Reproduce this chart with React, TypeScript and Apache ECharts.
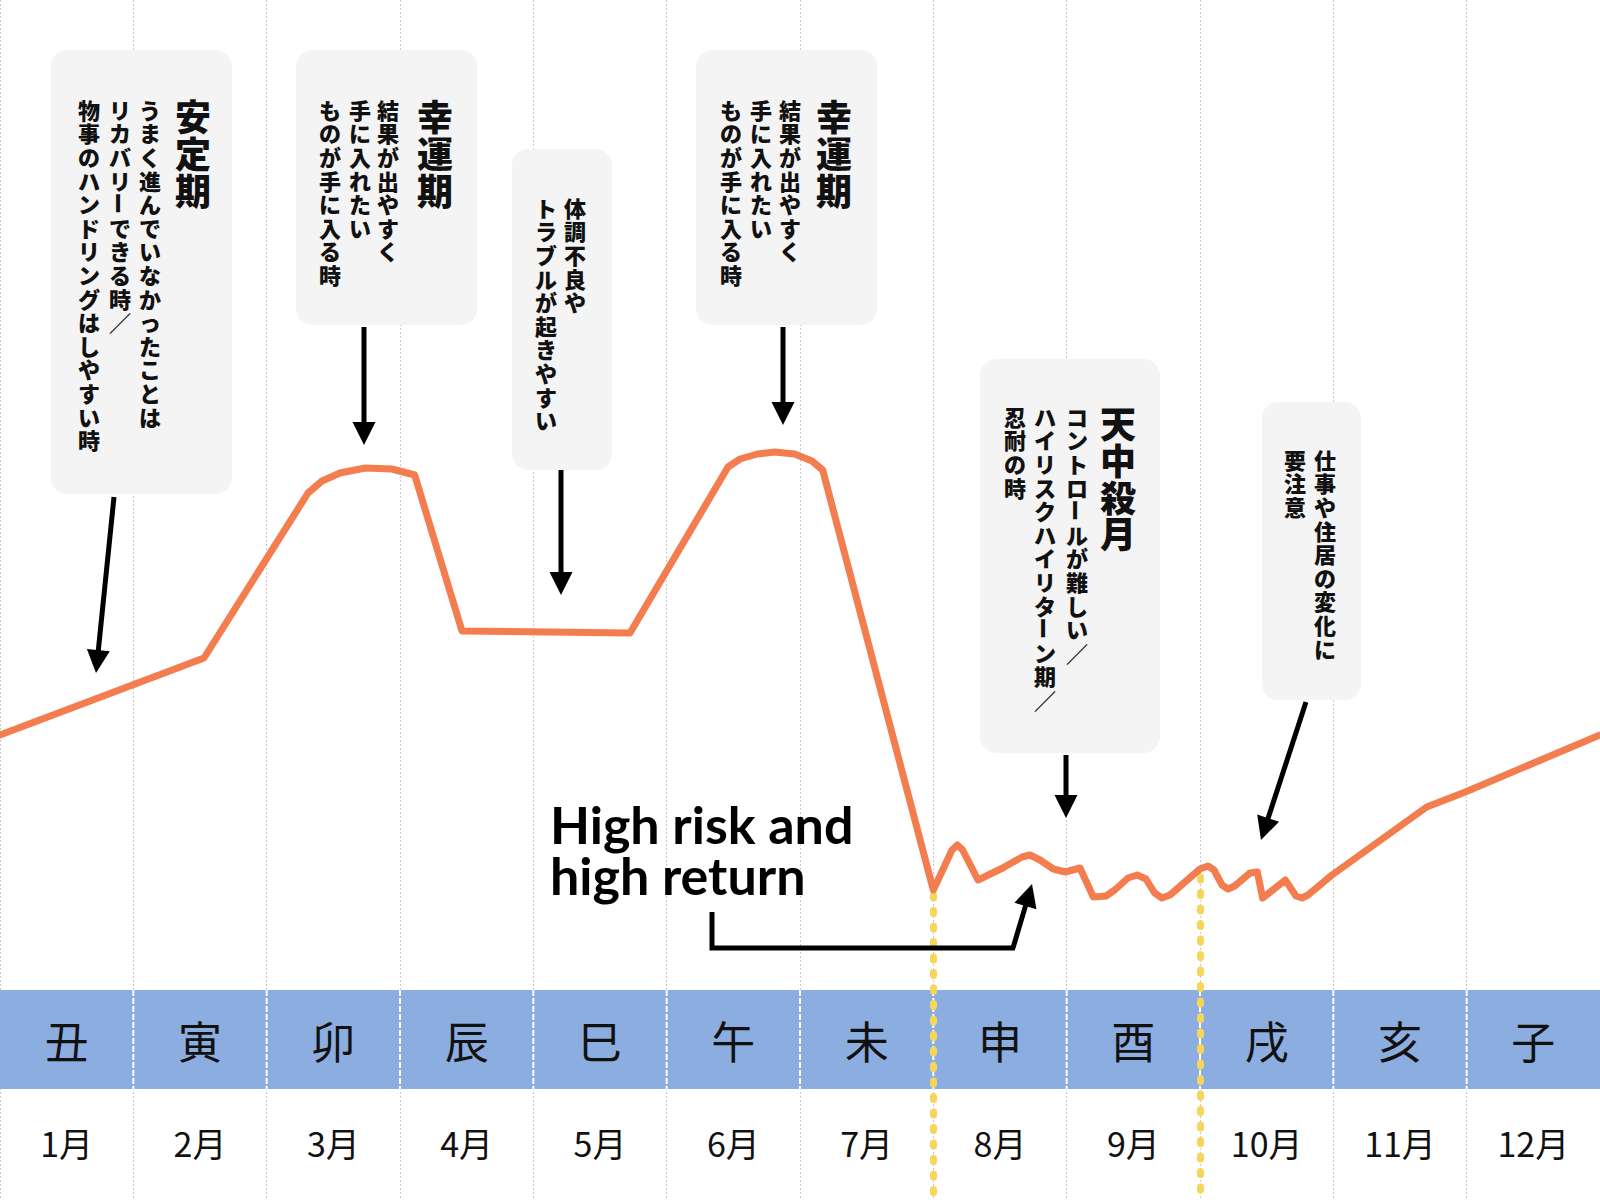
import React, { useEffect, useRef } from "react";
import * as echarts from "echarts";

// ---- data ----
const zodiac = ["丑", "寅", "卯", "辰", "巳", "午", "未", "申", "酉", "戌", "亥", "子"];
const months = ["1月", "2月", "3月", "4月", "5月", "6月", "7月", "8月", "9月", "10月", "11月", "12月"];

// fortune curve: x in months (0..12), y in fortune level (0..120)
const fortuneX = [
  0, 1.53, 2.31, 2.415, 2.55, 2.74, 2.94, 3.11, 3.465, 4.725, 5.46, 5.55, 5.68, 5.81, 5.96, 6.09, 6.17,
  7.0, 7.14, 7.18, 7.22, 7.335, 7.52, 7.665, 7.725, 7.8, 7.9, 7.99, 8.1, 8.2, 8.295, 8.36, 8.46, 8.53,
  8.595, 8.66, 8.715, 8.775, 9.0, 9.06, 9.105, 9.165, 9.21, 9.26, 9.375, 9.43, 9.47, 9.64, 9.72, 9.765,
  9.81, 9.99, 10.7, 10.99, 12,
];
const fortuneY = [
  46.5, 54.2, 70.7, 71.9, 72.7, 73.2, 73.1, 72.5, 56.9, 56.7, 73.3, 74.1, 74.6, 74.8, 74.6, 73.9, 73.0,
  31.0, 35.0, 35.5, 35.0, 32.0, 33.2, 34.3, 34.5, 34.0, 33.1, 32.8, 33.2, 30.3, 30.4, 31.0, 32.2, 32.5,
  32.1, 30.7, 30.2, 30.5, 33.1, 33.4, 33.0, 31.5, 31.1, 31.4, 32.7, 32.8, 30.2, 32.0, 30.4, 30.2,
  30.5, 32.5, 39.3, 40.8, 46.5,
];

// 天中殺 boundaries (month position) and where the dotted marker starts (level)
const tenchusatsuX = [7, 9];
const tenchusatsuStart = [30.5, 32.3];

const noteTitles = ["安定期", "幸運期", "", "幸運期", "天中殺月", ""];
const noteLines = [
  ["うまく進んでいなかったことは", "リカバリーできる時／", "物事のハンドリングはしやすい時"],
  ["結果が出やすく", "手に入れたい", "ものが手に入る時"],
  ["体調不良や", "トラブルが起きやすい"],
  ["結果が出やすく", "手に入れたい", "ものが手に入る時"],
  ["コントロールが難しい／", "ハイリスクハイリターン期／", "忍耐の時"],
  ["仕事や住居の変化に", "要注意"],
];
const callout = ["High risk and", "high return"];

// ---- layout / style ----
const LINE_COLOR = "#f47d4f";
const BAND_COLOR = "#8caddf";
const BOX_COLOR = "#f4f4f4";
const YELLOW = "#f7d55b";
const JP = "'Noto Sans CJK JP', 'Noto Sans CJK SC', sans-serif";
const BAND_TOP = 21.0;
const BAND_BOTTOM = 11.1;
const ZODIAC_LEVEL = 16.0;
const MONTH_LEVEL = 5.8;

const noteLayout = [
  { box: [51, 50, 181, 444], titleX: 193, cols: [150, 120, 89], top: 97 },
  { box: [296, 50, 181, 275], titleX: 435, cols: [388, 360, 330], top: 97 },
  { box: [512, 149, 100, 321], titleX: 0, cols: [575, 546], top: 195 },
  { box: [696, 50, 181, 275], titleX: 834, cols: [790, 761, 731], top: 97 },
  { box: [980, 359, 180, 394], titleX: 1118, cols: [1077, 1045, 1015], top: 404 },
  { box: [1262, 402, 99, 298], titleX: 0, cols: [1325, 1295], top: 447 },
];
const arrows = [
  [114, 497, 96, 673],
  [364, 327, 364, 445],
  [561, 470, 561, 595],
  [783, 327, 783, 425],
  [1066, 755, 1066, 818],
  [1306, 702, 1261, 840],
  [1013, 948, 1032, 884],
];

// vertical column: runs of upright characters become one multi-line text;
// the long-vowel mark is rotated as in vertical typesetting
function vText(s: string, cx: number, top: number, pitch: number, size: number): any[] {
  const chars = Array.from(s);
  const out: any[] = [];
  const base = {
    fill: "#111",
    fontSize: size,
    lineHeight: pitch,
    fontWeight: 900,
    fontFamily: JP,
    align: "center",
    verticalAlign: "top",
  };
  let run: string[] = [];
  let runStart = 0;
  const flush = () => {
    if (!run.length) return;
    out.push({
      type: "text",
      z: 12,
      x: cx,
      y: top + pitch * runStart,
      style: { ...base, text: run.join("\n"), x: 0, y: 0 },
    });
    run = [];
  };
  chars.forEach((ch, i) => {
    if (ch === "ー") {
      flush();
      out.push({
        type: "text",
        z: 12,
        x: cx,
        y: top + pitch * (i + 0.5),
        rotation: -Math.PI / 2,
        style: { ...base, text: ch, x: 0, y: 0, verticalAlign: "middle" },
      });
      runStart = i + 1;
    } else {
      if (!run.length) runStart = i;
      run.push(ch);
    }
  });
  flush();
  return out;
}

function arrow(x1: number, y1: number, x2: number, y2: number): any[] {
  const head = 23;
  const dx = x2 - x1;
  const dy = y2 - y1;
  const len = Math.hypot(dx, dy);
  const ux = dx / len;
  const uy = dy / len;
  const bx = x2 - ux * head;
  const by = y2 - uy * head;
  const px = -uy;
  const py = ux;
  const hw = 11.5;
  return [
    {
      type: "line",
      z: 12,
      shape: { x1, y1, x2: bx + ux * 2, y2: by + uy * 2 },
      style: { stroke: "#000", lineWidth: 5 },
    },
    {
      type: "polygon",
      z: 12,
      shape: { points: [[x2, y2], [bx + px * hw, by + py * hw], [bx - px * hw, by - py * hw]] },
      style: { fill: "#000" },
    },
  ];
}

function buildGraphics(): any[] {
  const els: any[] = [];
  noteLayout.forEach((l, k) => {
    els.push({
      type: "rect",
      z: 10,
      shape: { x: l.box[0], y: l.box[1], width: l.box[2], height: l.box[3], r: 16 },
      style: { fill: BOX_COLOR },
    });
    if (noteTitles[k]) els.push(...vText(noteTitles[k], l.titleX, l.top, 36.7, 36));
    noteLines[k].forEach((line, j) => {
      els.push(...vText(line, l.cols[j], l.top, 23.6, 22));
    });
  });
  arrows.forEach((a) => els.push(...arrow(a[0], a[1], a[2], a[3])));
  els.push({
    type: "polyline",
    z: 12,
    shape: { points: [[712, 912], [712, 948], [1015, 948]] },
    style: { stroke: "#000", lineWidth: 5, fill: null, lineJoin: "miter" },
  });
  callout.forEach((t, i) => {
    els.push({
      type: "text",
      z: 12,
      x: 550,
      y: 824 + i * 51,
      style: {
        text: t,
        x: 0,
        y: 0,
        fill: "#000",
        fontSize: 52,
        lineHeight: 50,
        fontWeight: "bold",
        fontFamily: "Lato, 'Noto Sans', sans-serif",
        align: "left",
        verticalAlign: "middle",
      },
    });
  });
  return els;
}

export default function App() {
  const ref = useRef<HTMLDivElement>(null);
  useEffect(() => {
    if (!ref.current) return;
    const chart = echarts.init(ref.current, undefined, { renderer: "svg" });
    const option: any = {
      animation: false,
      backgroundColor: "#ffffff",
      grid: { left: 0, right: 0, top: 0, bottom: 0 },
      xAxis: {
        type: "value",
        min: 0,
        max: 12,
        interval: 1,
        axisLine: { show: false },
        axisTick: { show: false },
        axisLabel: { show: false },
        splitLine: { show: true, lineStyle: { color: "#c9c9c9", width: 1, type: [2, 2] } },
      },
      yAxis: { type: "value", min: 0, max: 120, show: false, splitLine: { show: false } },
      series: [
        {
          type: "custom",
          z: 1,
          silent: true,
          data: zodiac.map((_, i) => [i, 0]),
          encode: { x: 0, y: 1 },
          renderItem: (params: any, api: any) => {
            const i = api.value(0);
            const tl = api.coord([i, BAND_TOP]);
            const br = api.coord([i + 1, BAND_BOTTOM]);
            const children: any[] = [
              {
                type: "rect",
                shape: { x: tl[0], y: tl[1], width: br[0] - tl[0], height: br[1] - tl[1] },
                style: { fill: BAND_COLOR },
              },
            ];
            if (i > 0) {
              children.push({
                type: "line",
                shape: { x1: tl[0], y1: tl[1], x2: tl[0], y2: br[1] },
                style: { stroke: "#ffffff", lineWidth: 2, lineDash: [6, 2] },
              });
            }
            const zc = api.coord([i + 0.5, ZODIAC_LEVEL]);
            children.push({
              type: "text",
              x: zc[0],
              y: zc[1],
              style: {
                text: zodiac[i],
                fill: "#111",
                fontSize: 44,
                fontFamily: JP,
                fontWeight: "normal",
                align: "center",
                verticalAlign: "middle",
              },
            });
            const mc = api.coord([i + 0.5, MONTH_LEVEL]);
            children.push({
              type: "text",
              x: mc[0],
              y: mc[1],
              style: {
                text: months[i],
                fill: "#111",
                fontSize: 34,
                fontFamily: JP,
                fontWeight: "normal",
                align: "center",
                verticalAlign: "middle",
              },
            });
            return { type: "group", children };
          },
        },
        {
          type: "line",
          z: 5,
          silent: true,
          symbol: "none",
          showSymbol: false,
          data: fortuneX.map((x, i) => [x, fortuneY[i]]),
          lineStyle: { color: LINE_COLOR, width: 7, join: "round", cap: "round" },
          markLine: {
            silent: true,
            symbol: "none",
            label: { show: false },
            lineStyle: { color: YELLOW, width: 7, type: [3, 12.5], cap: "round" },
            data: tenchusatsuX.map((x, k) => [
              { coord: [x, tenchusatsuStart[k]] },
              { coord: [x, 0] },
            ]),
          },
        },
      ],
      graphic: { elements: buildGraphics() },
    };
    chart.setOption(option);
    return () => chart.dispose();
  }, []);
  return (
    <div
      ref={ref}
      style={{ position: "absolute", left: 0, top: 0, width: 1600, height: 1200, background: "#fff" }}
    />
  );
}
